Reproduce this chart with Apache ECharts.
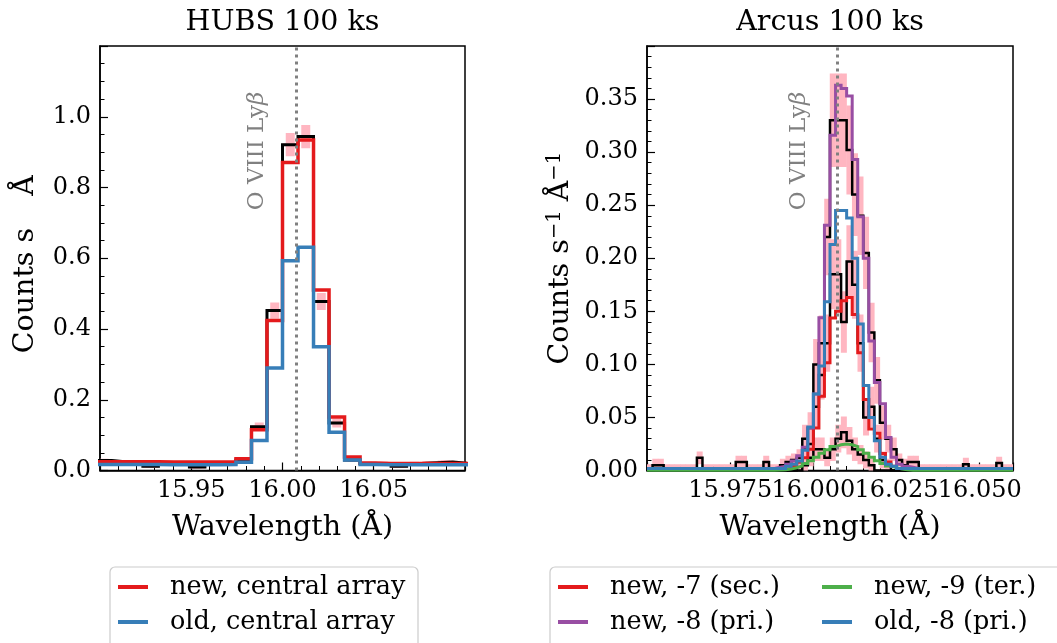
<!DOCTYPE html>
<html><head><meta charset="utf-8">
<script src="https://cdn.jsdelivr.net/npm/echarts@6/dist/echarts.min.js"></script>
<style>html,body{margin:0;padding:0;background:#fff}#c{width:1057px;height:643px}</style>
</head><body><div id="c"></div>
<script>
// ---------------- DATA ----------------
const lineWave = 16.0073; // O VIII Ly-beta marker
// HUBS panel bin edges (Angstrom)
const hubsEdges = [15.898,15.9065,15.915,15.9235,15.932,15.9405,15.949,15.9575,15.966,15.9745,15.983,15.9915,16.000,16.0085,16.017,16.0255,16.034,16.0425,16.051,16.0595,16.068,16.0765,16.085,16.0935,16.102];
const hubsNew  = [0.025,0.025,0.025,0.025,0.024,0.024,0.024,0.024,0.025,0.033,0.115,0.424,0.871,0.934,0.510,0.151,0.038,0.021,0.020,0.020,0.020,0.020,0.020,0.020];
const hubsOld  = [0.017,0.017,0.017,0.017,0.016,0.016,0.016,0.016,0.017,0.023,0.085,0.290,0.593,0.631,0.350,0.108,0.030,0.017,0.016,0.016,0.016,0.016,0.016,0.016];
const hubsObs  = [0.028,0.024,0.025,0.012,0.020,0.022,0.010,0.020,0.022,0.030,0.124,0.452,0.921,0.944,0.478,0.134,0.030,0.020,0.020,0.012,0.020,0.022,0.024,0.020];
const hubsErr  = [0.005,0.005,0.005,0.004,0.005,0.005,0.004,0.005,0.005,0.006,0.012,0.023,0.033,0.033,0.024,0.0125,0.006,0.005,0.005,0.004,0.005,0.005,0.005,0.005];

// Arcus panel bin edges (Angstrom)
const arcEdges = [15.95,15.95167,15.95333,15.955,15.95667,15.95833,15.96,15.96167,15.96333,15.965,
  15.96667,15.96833,15.97,15.97167,15.97333,15.975,15.97667,15.97833,15.98,15.98167,
  15.98333,15.985,15.98667,15.98833,15.99,15.99167,15.99333,15.995,15.99667,15.99833,
  16.0,16.00167,16.00333,16.005,16.00667,16.00833,16.01,16.01167,16.01333,16.015,
  16.01667,16.01833,16.02,16.02167,16.02333,16.025,16.02667,16.02833,16.03,16.03167,
  16.03333,16.035,16.03667,16.03833,16.04,16.04167,16.04333,16.045,16.04667,16.04833,
  16.05,16.05167,16.05333,16.055,16.05667,16.05833,16.06];
const arcNew8 = [0.002,0.002,0.002,0.002,0.002,0.002,0.002,0.002,0.002,0.002,
  0.002,0.002,0.002,0.002,0.002,0.002,0.002,0.002,0.002,0.002,
  0.002,0.002,0.002,0.003,0.004,0.006,0.009,0.014,0.022,0.040,
  0.072,0.144,0.231,0.316,0.363,0.360,0.353,0.293,0.239,0.200,
  0.122,0.083,0.063,0.031,0.0125,0.006,0.004,0.003,0.002,0.002,
  0.002,0.002,0.002,0.002,0.002,0.002,0.002,0.002,0.002,0.002,
  0.002,0.002,0.002,0.002,0.002,0.002];
const arcOld8 = [0.002,0.002,0.002,0.002,0.002,0.002,0.002,0.002,0.002,0.002,
  0.002,0.002,0.002,0.002,0.002,0.002,0.002,0.002,0.002,0.002,
  0.002,0.002,0.002,0.002,0.002,0.004,0.006,0.009,0.019,0.041,
  0.072,0.0985,0.159,0.213,0.245,0.245,0.238,0.200,0.138,0.080,
  0.050,0.028,0.0125,0.006,0.004,0.002,0.002,0.002,0.002,0.002,
  0.002,0.002,0.002,0.002,0.002,0.002,0.002,0.002,0.002,0.002,
  0.002,0.002,0.002,0.002,0.002,0.002];
const arcNew7 = [0.001,0.001,0.001,0.001,0.001,0.001,0.001,0.001,0.001,0.001,
  0.001,0.001,0.001,0.001,0.001,0.001,0.001,0.001,0.001,0.001,
  0.001,0.001,0.001,0.001,0.001,0.002,0.004,0.008,0.012,0.020,
  0.040,0.070,0.1016,0.1438,0.150,0.160,0.163,0.147,0.111,0.067,
  0.039,0.035,0.016,0.008,0.004,0.002,0.001,0.001,0.001,0.001,
  0.001,0.001,0.001,0.001,0.001,0.001,0.001,0.001,0.001,0.001,
  0.001,0.001,0.001,0.001,0.001,0.001];
const arcNew9 = [0.0002,0.0002,0.0002,0.0002,0.0002,0.0002,0.0002,0.0002,0.0002,0.0002,
  0.0002,0.0002,0.0002,0.0002,0.0002,0.0002,0.0002,0.0002,0.0002,0.0002,
  0.0002,0.0002,0.0003,0.0005,0.0008,0.0015,0.0026,0.0043,0.0065,0.0093,
  0.0126,0.0162,0.0196,0.0225,0.0243,0.0250,0.0243,0.0225,0.0196,0.0162,
  0.0126,0.0093,0.0065,0.0043,0.0026,0.0015,0.0008,0.0003,0.0003,0.0003,
  0.0003,0.0003,0.0003,0.0003,0.0003,0.0003,0.0003,0.0003,0.0003,0.0003,
  0.0003,0.0003,0.0003,0.0003,0.0003,0.0003];
const arcObs8 = [0,0.005,0.005,0,0,0,0,0,0,0.012,
  0,0,0,0,0,0,0.008,0.008,0,0,
  0,0.008,0,0,0.005,0.008,0.010,0.012,0.030,0.040,
  0.100,0.120,0.220,0.330,0.330,0.330,0.302,0.260,0.240,0.205,
  0.130,0.085,0.045,0.030,0.020,0.010,0.005,0.008,0.008,0,
  0,0,0,0,0,0,0,0.006,0,0,
  0,0,0,0.007,0,0];
const arcErr8 = [0.006,0.006,0.006,0.006,0.006,0.006,0.006,0.006,0.006,0.006,
  0.006,0.006,0.006,0.006,0.006,0.006,0.006,0.006,0.006,0.006,
  0.006,0.006,0.006,0.006,0.006,0.006,0.006,0.008,0.013,0.015,
  0.024,0.026,0.036,0.044,0.044,0.044,0.042,0.039,0.037,0.034,
  0.028,0.022,0.016,0.013,0.011,0.006,0.006,0.006,0.006,0.006,
  0.006,0.006,0.006,0.006,0.006,0.006,0.006,0.006,0.006,0.006,
  0.006,0.006,0.006,0.006,0.006,0.006];
const arcObs7 = [0,0,0,0,0,0,0,0,0,0,
  0,0,0,0,0,0,0,0,0,0,
  0,0,0,0,0,0,0,0.008,0.020,0.025,
  0.060,0.090,0.120,0.185,0.185,0.140,0.197,0.175,0.120,0.050,
  0.060,0.030,0.010,0.005,0,0,0,0,0,0,
  0,0,0,0,0,0,0,0,0,0,
  0,0,0,0,0,0];
const arcErr7 = [0,0,0,0,0,0,0,0,0,0,
  0,0,0,0,0,0,0,0,0,0,
  0,0,0,0,0,0,0,0.007,0.011,0.012,
  0.019,0.023,0.027,0.033,0.033,0.029,0.034,0.032,0.027,0.017,
  0.019,0.013,0.008,0.006,0,0,0,0,0,0,
  0,0,0,0,0,0,0,0,0,0,
  0,0,0,0,0,0];
const arcObs9 = [0,0,0,0,0,0,0,0,0,0,
  0,0,0,0,0,0,0,0,0,0,
  0,0,0,0,0,0,0,0,0.005,0.012,
  0.020,0.020,0.012,0.020,0.030,0.036,0.028,0.020,0.015,0.010,
  0.005,0,0,0,0,0,0,0,0,0,
  0,0,0,0,0,0,0,0,0,0,
  0,0,0,0,0,0];
const arcErr9 = [0,0,0,0,0,0,0,0,0,0,
  0,0,0,0,0,0,0,0,0,0,
  0,0,0,0,0,0,0,0,0.006,0.008,
  0.011,0.011,0.008,0.011,0.013,0.015,0.013,0.011,0.009,0.008,
  0.006,0,0,0,0,0,0,0,0,0,
  0,0,0,0,0,0,0,0,0,0,
  0,0,0,0,0,0];

// ---------------- CHART ----------------
const FONT = 'DejaVu Serif';
const C = {red:'#e41a1c', blue:'#377eb8', purple:'#984ea3', green:'#4daf4a', pink:'#ffb6c1', gray:'#808080'};
function steps(edges, vals){
  const d = [];
  for (let i = 0; i < vals.length; i++) d.push([edges[i], vals[i]]);
  d.push([edges[vals.length], vals[vals.length-1]]);
  return d;
}
function errData(edges, vals, errs){
  const d = [];
  for (let i = 0; i < vals.length; i++) if (errs[i] > 0) d.push([(edges[i]+edges[i+1])/2, vals[i], errs[i], (edges[i+1]-edges[i])/2]);
  return d;
}
function errSeries(xi, data, w){
  return {type:'custom', xAxisIndex:xi, yAxisIndex:xi, data:data, clip:true, silent:true,
    renderItem:function(params, api){
      const x = api.value(0), y = api.value(1), e = api.value(2), hw = api.value(3);
      const t = api.coord([x, y+e]), b = api.coord([x, y-e]);
      const l = api.coord([x-hw, y]), r = api.coord([x+hw, y]);
      return {type:'group', children:[
        {type:'line', shape:{x1:l[0], y1:l[1], x2:r[0], y2:r[1]}, style:{stroke:C.pink, lineWidth:3}},
        {type:'line', shape:{x1:t[0], y1:t[1], x2:b[0], y2:b[1]}, style:{stroke:C.pink, lineWidth:w}}
      ]};
    }};
}
function stepLine(xi, name, edges, vals, color, w){
  return {type:'line', name:name, xAxisIndex:xi, yAxisIndex:xi, data:steps(edges, vals), step:'end',
    showSymbol:false, symbol:'none', color:color, itemStyle:{color:color},
    lineStyle:{color:color, width:w, join:'miter'}, clip:true, silent:true};
}
function marker(xi){
  return {type:'line', xAxisIndex:xi, yAxisIndex:xi, data:[], silent:true,
    markLine:{symbol:'none', silent:true, animation:false, precision:6, label:{show:false},
      lineStyle:{color:C.gray, width:3, type:[3,4], cap:'butt'}, data:[{xAxis:lineWave}]}};
}
const tickLabel = {fontFamily:FONT, fontSize:24, color:'#000'};
const nameStyle = {fontFamily:FONT, fontSize:28.5, color:'#000'};
function xAxis(gi, min, max, step, dec){
  return {type:'value', gridIndex:gi, min:min, max:max, interval:step,
    axisLine:{show:true, onZero:false, lineStyle:{color:'#000', width:1.5}},
    axisTick:{show:true, inside:true, length:8, lineStyle:{color:'#000', width:1.2}},
    minorTick:{show:true, splitNumber:5, length:4.5, lineStyle:{color:'#000', width:1}},
    splitLine:{show:false},
    axisLabel:Object.assign({margin:8, showMinLabel:false, showMaxLabel:false, formatter:v=>v.toFixed(dec)}, tickLabel),
    name:'Wavelength (Å)', nameLocation:'middle', nameGap:43, nameTextStyle:nameStyle};
}
function yAxis(gi, max, step, dec, split, name, gap, extra){
  return {type:'value', gridIndex:gi, min:0, max:max, interval:step,
    axisLine:{show:true, lineStyle:{color:'#000', width:1.5}},
    axisTick:{show:true, inside:true, length:8, lineStyle:{color:'#000', width:1.2}},
    minorTick:{show:true, splitNumber:split, length:4.5, lineStyle:{color:'#000', width:1}},
    splitLine:{show:false},
    axisLabel:Object.assign({margin:9, showMaxLabel:false, formatter:v=>v.toFixed(dec)}, tickLabel),
    name:name, nameLocation:'middle', nameGap:gap, nameTextStyle:Object.assign({}, nameStyle, extra)};
}
const legendText = {fontFamily:FONT, fontSize:25.5, color:'#000', rich:{g:{width:17}}};
function legend(names, left){
  return {data:names, orient:'vertical', left:left, top:574, itemWidth:30, itemHeight:4, itemGap:9,
    icon:'rect', padding:0, z:10, selectedMode:false, textStyle:legendText, formatter:n=>'{g|}'+n};
}

const chart = echarts.init(document.getElementById('c'), null, {renderer:'canvas'});
const option = {
  animation:false,
  backgroundColor:'#fff',
  grid:[
    {left:100, top:46, width:365, height:424.5, show:true, borderColor:'#000', borderWidth:1.5, backgroundColor:'transparent'},
    {left:647, top:46, width:366, height:424.5, show:true, borderColor:'#000', borderWidth:1.5, backgroundColor:'transparent'}
  ],
  xAxis:[xAxis(0, 15.90, 16.10, 0.05, 2), xAxis(1, 15.95, 16.06, 0.025, 3)],
  yAxis:[
    yAxis(0, 1.2, 0.2, 1, 4, 'Counts s{g|}Å', 60, {rich:{g:{width:32}}, padding:[0,12,0,0]}),
    yAxis(1, 0.4, 0.05, 2, 5, 'Counts s{s|−1} Å{s|−1}', 70, {rich:{s:{fontFamily:FONT, fontSize:19.5, verticalAlign:'top', padding:[0,0,12,0]}}})
  ],
  legend:[
    legend(['new, central array','old, central array'], 118),
    legend(['new, -7 (sec.)','new, -8 (pri.)'], 558),
    legend(['new, -9 (ter.)','old, -8 (pri.)'], 822)
  ],
  series:[
    errSeries(0, errData(hubsEdges, hubsObs, hubsErr), 9),
    stepLine(0, 'hubsObs', hubsEdges, hubsObs, '#000', 3),
    stepLine(0, 'new, central array', hubsEdges, hubsNew, C.red, 3.5),
    stepLine(0, 'old, central array', hubsEdges, hubsOld, C.blue, 3.5),
    marker(0),
    errSeries(1, errData(arcEdges, arcObs8, arcErr8).concat(errData(arcEdges, arcObs7, arcErr7), errData(arcEdges, arcObs9, arcErr9)), 6),
    stepLine(1, 'arcObs8', arcEdges, arcObs8, '#000', 2.5),
    stepLine(1, 'arcObs7', arcEdges, arcObs7, '#000', 2.5),
    stepLine(1, 'arcObs9', arcEdges, arcObs9, '#000', 2.5),
    stepLine(1, 'new, -7 (sec.)', arcEdges, arcNew7, C.red, 3),
    stepLine(1, 'new, -8 (pri.)', arcEdges, arcNew8, C.purple, 3),
    stepLine(1, 'new, -9 (ter.)', arcEdges, arcNew9, C.green, 3),
    stepLine(1, 'old, -8 (pri.)', arcEdges, arcOld8, C.blue, 3),
    marker(1)
  ]
};
chart.setOption(option);

// annotations, titles and legend frames
function annot(gi){
  const p = chart.convertToPixel({gridIndex:gi}, [lineWave, 0]);
  return {type:'text', x:p[0]-27, y:151, rotation:Math.PI/2, z:20, silent:true,
    style:{text:'O VIII Ly{b|β}', fill:C.gray, fontFamily:FONT, fontSize:23, align:'center', verticalAlign:'bottom',
      rich:{b:{fontFamily:FONT, fontSize:23, fontStyle:'italic', fill:C.gray}}}};
}
const titleStyle = {fill:'#000', fontFamily:FONT, fontSize:28.5, align:'center', verticalAlign:'middle'};
chart.setOption({graphic:[
  {type:'text', x:282.5, y:23, silent:true, style:Object.assign({text:'HUBS 100 ks'}, titleStyle)},
  {type:'text', x:830, y:23, silent:true, style:Object.assign({text:'Arcus 100 ks'}, titleStyle)},
  annot(0), annot(1),
  {type:'rect', z:1, silent:true, shape:{x:110, y:567, width:308, height:110, r:5}, style:{fill:'#fff', stroke:'#cccccc', lineWidth:1.2}},
  {type:'rect', z:1, silent:true, shape:{x:550, y:567, width:540, height:110, r:5}, style:{fill:'#fff', stroke:'#cccccc', lineWidth:1.2}}
]});
</script>
</body></html>
